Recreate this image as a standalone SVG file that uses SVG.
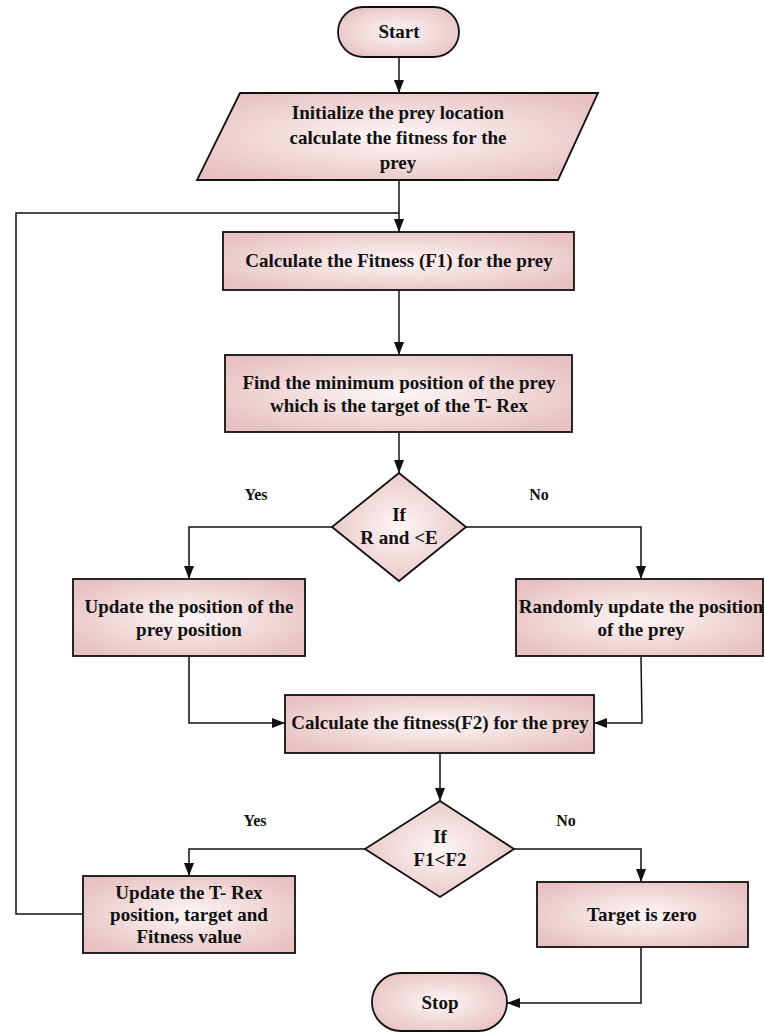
<svg xmlns="http://www.w3.org/2000/svg" width="765" height="1032" viewBox="0 0 765 1032">
<style>
.n{fill:url(#g);stroke:#111;stroke-width:1.8}
.t{font-family:"Liberation Serif","Times New Roman",serif;font-weight:bold;font-size:19px;fill:#111;text-anchor:middle}
.l{font-family:"Liberation Serif","Times New Roman",serif;font-weight:bold;font-size:16px;fill:#111;text-anchor:middle}
.c{fill:none;stroke:#111;stroke-width:1.5}
</style>
<defs>
<radialGradient id="g" cx="50%" cy="50%" r="60%">
<stop offset="0" stop-color="#fdf6f6"/>
<stop offset="1" stop-color="#e8c2c2"/>
</radialGradient>
<marker id="a" markerUnits="userSpaceOnUse" markerWidth="14" markerHeight="10" refX="13" refY="5" orient="auto">
<path d="M0,0 L13,5 L0,10 z" fill="#111"/>
</marker>
</defs>
<g id="connectors">
<path class="c" d="M399,57 V93" marker-end="url(#a)"/>
<path class="c" d="M399,180 V232" marker-end="url(#a)"/>
<path class="c" d="M83,914 H16 V213 H399"/>
<path class="c" d="M399,290 V355" marker-end="url(#a)"/>
<path class="c" d="M399,432 V473" marker-end="url(#a)"/>
<path class="c" d="M332,527 H189 V579" marker-end="url(#a)"/>
<path class="c" d="M466,527 H641 V579" marker-end="url(#a)"/>
<path class="c" d="M189,656 V723 H285" marker-end="url(#a)"/>
<path class="c" d="M641,656 L642,723 H594" marker-end="url(#a)"/>
<path class="c" d="M440,753 V801" marker-end="url(#a)"/>
<path class="c" d="M365,849 H189 V876" marker-end="url(#a)"/>
<path class="c" d="M514,849 H641 V882" marker-end="url(#a)"/>
<path class="c" d="M641,947 V1003 H507" marker-end="url(#a)"/>
<text class="l" x="256" y="500">Yes</text>
<text class="l" x="539" y="500">No</text>
<text class="l" x="255" y="826">Yes</text>
<text class="l" x="566" y="826">No</text>
</g>
<g id="start">
<rect class="n" x="338" y="7" width="121" height="50" rx="25"/>
<text class="t" x="399" y="38">Start</text>
</g>
<g id="init">
<polygon class="n" points="240,93 598,93 558,180 197,180"/>
<text class="t" x="398" y="119">Initialize the prey location</text>
<text class="t" x="398" y="144">calculate the fitness for the</text>
<text class="t" x="398" y="169">prey</text>
</g>
<g id="fitness1">
<rect class="n" x="223" y="232" width="351" height="58"/>
<text class="t" x="399" y="267">Calculate the Fitness (F1) for the prey</text>
</g>
<g id="findmin">
<rect class="n" x="225" y="355" width="347" height="77"/>
<text class="t" x="399" y="389">Find the minimum position of the prey</text>
<text class="t" x="399" y="412">which is the target of the T- Rex</text>
</g>
<g id="dec1">
<polygon class="n" points="399,473 466,527 399,581 332,527"/>
<text class="t" x="399" y="521">If</text>
<text class="t" x="399" y="544">R and &lt;E</text>
</g>
<g id="update1">
<rect class="n" x="73" y="579" width="232" height="77"/>
<text class="t" x="189" y="613">Update the position of the</text>
<text class="t" x="189" y="636">prey position</text>
</g>
<g id="random">
<rect class="n" x="516" y="579" width="247" height="77"/>
<text class="t" x="641" y="613">Randomly update the position</text>
<text class="t" x="641" y="636">of the prey</text>
</g>
<g id="fitness2">
<rect class="n" x="285" y="695" width="309" height="58"/>
<text class="t" x="440" y="729">Calculate the fitness(F2) for the prey</text>
</g>
<g id="dec2">
<polygon class="n" points="440,801 514,849 440,897 365,849"/>
<text class="t" x="440" y="843">If</text>
<text class="t" x="440" y="866">F1&lt;F2</text>
</g>
<g id="updateTrex">
<rect class="n" x="83" y="876" width="212" height="77"/>
<text class="t" x="189" y="899">Update the T- Rex</text>
<text class="t" x="189" y="921">position, target and</text>
<text class="t" x="189" y="943">Fitness value</text>
</g>
<g id="zero">
<rect class="n" x="537" y="882" width="211" height="65"/>
<text class="t" x="642" y="921">Target is zero</text>
</g>
<g id="stop">
<rect class="n" x="372" y="973" width="135" height="58" rx="29"/>
<text class="t" x="440" y="1009">Stop</text>
</g>
</svg>
